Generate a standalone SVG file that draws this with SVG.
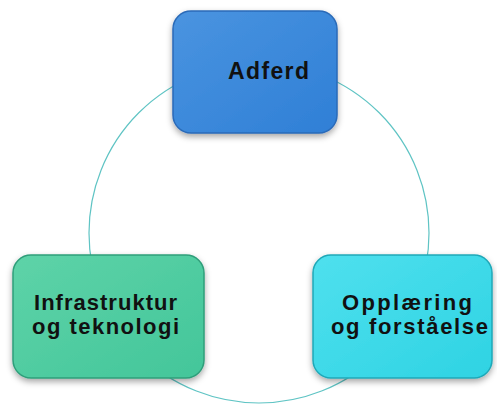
<svg xmlns="http://www.w3.org/2000/svg" width="497" height="407" viewBox="0 0 497 407">
<style>
.lbl{font-family:"Liberation Sans",Arial,sans-serif;font-weight:bold;font-size:22px;fill:#111;text-anchor:middle}
.big{font-size:23px}
.box{stroke-width:1.5}
</style>
<defs>
<linearGradient id="gb" x1="0" y1="0" x2="1" y2="1"><stop offset="0" stop-color="#4a94e0"/><stop offset="1" stop-color="#2f7fd6"/></linearGradient>
<linearGradient id="gg" x1="0" y1="0" x2="1" y2="1"><stop offset="0" stop-color="#5ed3a8"/><stop offset="1" stop-color="#43c69a"/></linearGradient>
<linearGradient id="gc" x1="0" y1="0" x2="1" y2="1"><stop offset="0" stop-color="#4fe0ee"/><stop offset="1" stop-color="#2ed3e3"/></linearGradient>
<filter id="sh" x="-20%" y="-20%" width="140%" height="150%"><feDropShadow dx="0" dy="3" stdDeviation="3" flood-color="#000" flood-opacity="0.35"/></filter>
</defs>
<rect width="497" height="407" fill="#fff"/>
<g id="connectors">
<circle cx="259" cy="233" r="170" fill="none" stroke="#5fc4c4" stroke-width="1.2"/>
</g>
<g id="adferd">
<rect class="box" x="173" y="11" width="164" height="122" rx="18" fill="url(#gb)" stroke="#2a6ab8" filter="url(#sh)"/>
<text class="lbl big" x="268.5" y="79" textLength="81" lengthAdjust="spacing">Adferd</text>
</g>
<g id="infrastruktur">
<rect class="box" x="13" y="255" width="191" height="123" rx="18" fill="url(#gg)" stroke="#2f9e7a" filter="url(#sh)"/>
<text class="lbl" x="105.5" y="309.5" textLength="143" lengthAdjust="spacing">Infrastruktur</text>
<text class="lbl" x="105.5" y="334" textLength="147" lengthAdjust="spacing">og teknologi</text>
</g>
<g id="opplaering">
<rect class="box" x="313" y="255" width="179" height="123" rx="18" fill="url(#gc)" stroke="#1fa8b8" filter="url(#sh)"/>
<text class="lbl" x="407" y="309.5" textLength="130" lengthAdjust="spacing">Opplæring</text>
<text class="lbl" x="409.5" y="334" textLength="157" lengthAdjust="spacing">og forståelse</text>
</g>
</svg>
